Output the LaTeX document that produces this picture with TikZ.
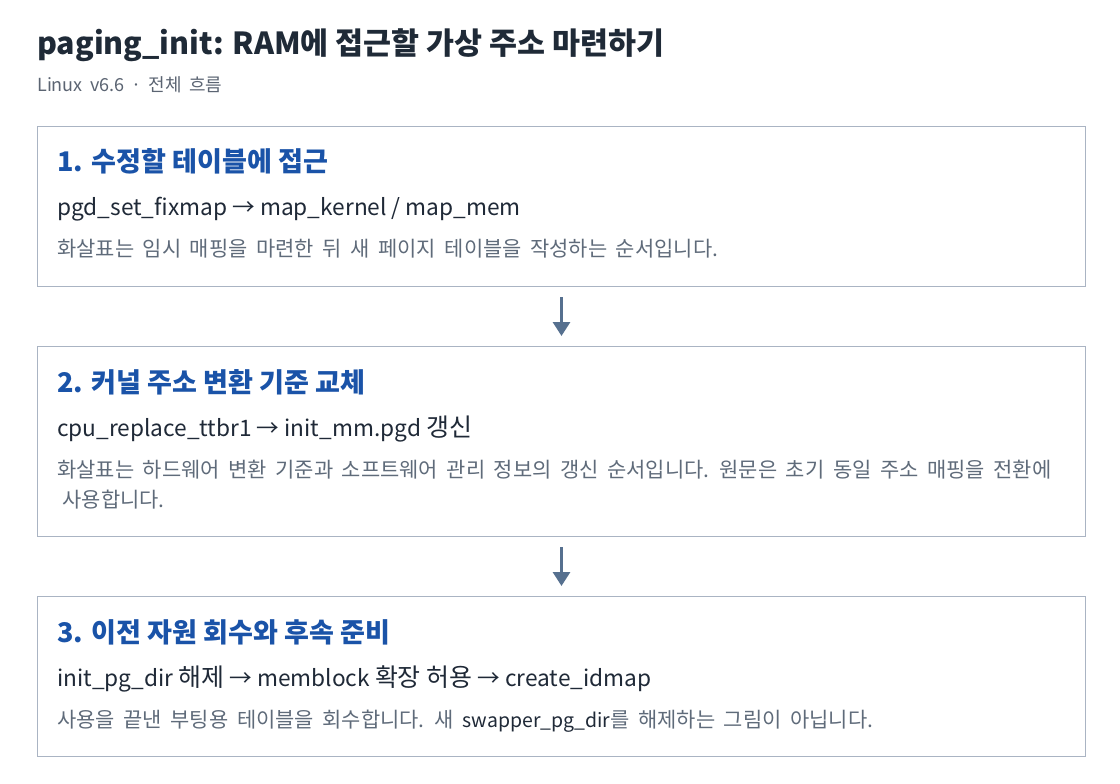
\documentclass[tikz,border=0pt]{standalone}
\usepackage{fontspec}
\setmainfont{Noto Sans CJK KR}
\usetikzlibrary{arrows.meta}
\definecolor{titlec}{HTML}{1F2A37}
\definecolor{subc}{HTML}{5B6472}
\definecolor{headc}{HTML}{1A53A8}
\definecolor{codec}{HTML}{1F2937}
\definecolor{descc}{HTML}{5F6B7A}
\definecolor{boxc}{HTML}{AAB4C3}
\definecolor{arrc}{HTML}{56708F}
\newcommand\mysubfont{\fontsize{13.5}{16}\selectfont\spaceskip 0.4em\relax}
\newcommand\mydescfont{\fontsize{15.7}{18}\selectfont\spaceskip 0.41em\relax}
\newcommand\kor[1]{{\fontsize{18.7}{21}\selectfont #1}}
\newcommand\inlinecode[1]{{\color{codec}\fontsize{14.6}{18}\selectfont #1}}
\tikzset{
  box/.style={draw=boxc, line width=0.75pt, fill=white, anchor=north west, minimum width=786pt, inner sep=0pt},
  titlet/.style={anchor=base west, inner sep=0pt, text=titlec, font=\fontsize{22.8}{26}\selectfont\bfseries},
  subt/.style={anchor=base west, inner sep=0pt, text=subc, font=\mysubfont},
  headt/.style={anchor=base west, inner sep=0pt, text=headc, font=\fontsize{20.3}{24}\selectfont\bfseries},
  codet/.style={anchor=base west, inner sep=0pt, text=codec, font=\fontsize{17}{21}\selectfont},
  desct/.style={anchor=base west, inner sep=0pt, text=descc, font=\mydescfont},
  flow/.style={draw=arrc, line width=2.25pt, -{Triangle[width=12.75pt,length=10.5pt]}},
}
\begin{document}
\begin{tikzpicture}[x=0.75pt,y=-0.75pt]
\useasboundingbox[fill=white] (0,0) rectangle (1120,784);
\node[titlet] (title) at (37,55) {paging\_init: RAM에 접근할 가상 주소 마련하기};
\node[subt] (sub) at (37,92) {Linux v6.6 · 전체 흐름};

\node[box, minimum height=120pt] (b1) at (37,126) {};
\node[box, minimum height=142.5pt] (b2) at (37,346) {};
\node[box, minimum height=120pt] (b3) at (37,596) {};

\node[headt] (h1) at (57,172) {1. 수정할 테이블에 접근};
\node[codet] (c1) at (57,216) {pgd\_set\_fixmap → map\_kernel / map\_mem};
\node[desct] (d1) at (57,257) {화살표는 임시 매핑을 마련한 뒤 새 페이지 테이블을 작성하는 순서입니다.};

\node[headt] (h2) at (57,392) {2. 커널 주소 변환 기준 교체};
\node[codet] (c2) at (57,436) {cpu\_replace\_ttbr1 → init\_mm.pgd \kor{갱신}};
\node[desct] (d2a) at (57,477) {화살표는 하드웨어 변환 기준과 소프트웨어 관리 정보의 갱신 순서입니다. 원문은 초기 동일 주소 매핑을 전환에};
\node[desct] (d2b) at (57,507) {\hspace{4pt}사용합니다.};

\node[headt] (h3) at (57,642) {3. 이전 자원 회수와 후속 준비};
\node[codet] (c3) at (57,686) {init\_pg\_dir \kor{해제} → memblock \kor{확장 허용} → create\_idmap};
\node[desct] (d3) at (57,727) {사용을 끝낸 부팅용 테이블을 회수합니다. 새 \inlinecode{swapper\_pg\_dir}를 해제하는 그림이 아닙니다.};

\draw[flow] ([yshift=-7.5pt]b1.south) -- ([yshift=7.5pt]b2.north);
\draw[flow] ([yshift=-7.5pt]b2.south) -- ([yshift=7.5pt]b3.north);
\end{tikzpicture}
\end{document}
